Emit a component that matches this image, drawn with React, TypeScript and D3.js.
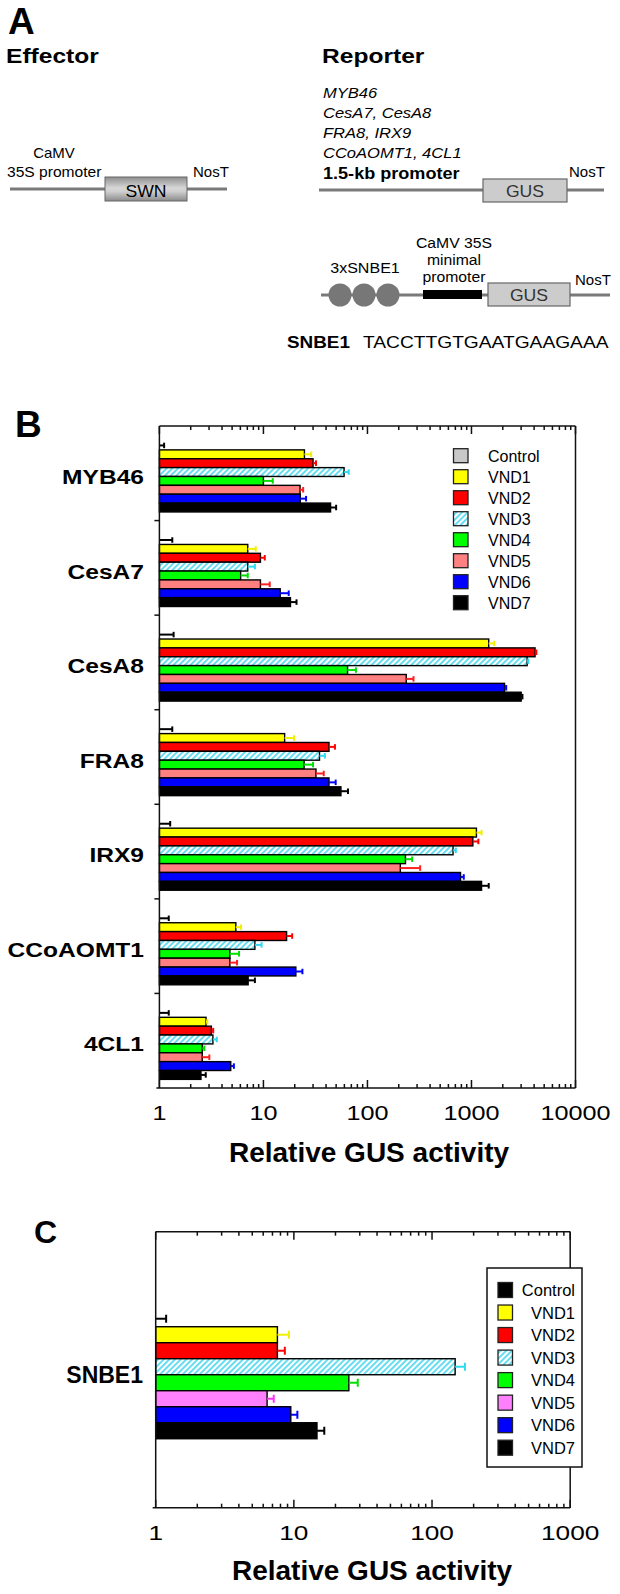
import * as d3 from "d3";

const series = ["Control", "VND1", "VND2", "VND3", "VND4", "VND5", "VND6", "VND7"];
const promoters = ["MYB46", "CesA7", "CesA8", "FRA8", "IRX9", "CCoAOMT1", "4CL1"];

// panel B, one row per promoter, one value per series
const meansB = [
  [1, 24.8, 30, 59.6, 10.0, 22.5, 22.6, 44.2],
  [1, 7.07, 9.36, 7.07, 6.04, 9.36, 14.5, 18.2],
  [1, 1465, 4085, 3430, 64.4, 236, 2080, 3005],
  [1, 16.0, 42.7, 34.6, 24.6, 32, 42.7, 55.6],
  [1, 1116, 1031, 665, 232, 207, 785, 1250],
  [1, 5.43, 16.7, 8.28, 4.76, 4.76, 20.5, 7.13],
  [1, 2.81, 3.16, 3.27, 2.58, 2.58, 4.85, 2.51],
];
const errorsB = [
  [0.11, 4.0, 2.0, 6.4, 2.3, 1.6, 3.1, 5.8],
  [0.33, 1.36, 0.94, 1.21, 1.03, 2.14, 3.0, 2.6],
  [0.37, 192, 115, 90, 13.1, 41, 77, 85],
  [0.33, 3.7, 6.0, 4.4, 5.4, 6.0, 6.8, 9.4],
  [0.27, 134, 134, 42, 37, 114, 58, 215],
  [0.23, 0.67, 2.2, 1.32, 1.07, 0.82, 3.2, 1.15],
  [0.23, 0.08, 0.13, 0.29, 0.12, 0.44, 0.35, 0.28],
];

// panel C
const reporterC = ["SNBE1"];
const meansC = [1, 7.6, 7.6, 147, 25, 6.4, 9.5, 14.7];
const errorsC = [0.19, 1.6, 1.0, 26, 4, 0.75, 1.1, 1.9];

const ticksB = [1, 10, 100, 1000, 10000];
const ticksC = [1, 10, 100, 1000];

const fillB = ["#c8c8c8", "#ffff00", "#ff0000", "url(#hatch)", "#00ff00", "#ff8080", "#0000ff", "#000000"];
const errColB = ["#000", "#f0f000", "#ff0000", "#30d8f0", "#00e000", "#ff2020", "#0000ff", "#000"];
const fillC = ["#000000", "#ffff00", "#ff0000", "url(#hatch)", "#00ff00", "#ff80ff", "#0000ff", "#000000"];
const errColC = ["#000", "#f0f000", "#ff0000", "#30d8f0", "#00e000", "#ff30ff", "#0000ff", "#000"];

const FONT = "'Liberation Sans', Arial, Helvetica, sans-serif";

function T({ x, y, size, bold = false, italic = false, anchor = "start", sx = 1, fill = "#000", children }: any) {
  return (
    <text
      transform={`translate(${x},${y}) scale(${sx},1)`}
      fontSize={size}
      fontWeight={bold ? "bold" : "normal"}
      fontStyle={italic ? "italic" : "normal"}
      textAnchor={anchor}
      fill={fill}
      fontFamily={FONT}
    >
      {children}
    </text>
  );
}

function LogAxes({ x, top, bottom, ticks, labelY, labelSize, labelSx }: any) {
  const all = x.ticks();
  const [x0, x1] = x.range();
  return (
    <g stroke="#111" strokeWidth={1.5}>
      <line x1={x0} x2={x1} y1={top} y2={top} />
      <line x1={x0 - 3} x2={x1} y1={bottom} y2={bottom} />
      <line x1={x0} x2={x0} y1={top} y2={bottom} />
      <line x1={x1} x2={x1} y1={top} y2={bottom} />
      {all.map((t: number, i: number) => {
        const major = Math.abs(Math.log10(t) - Math.round(Math.log10(t))) < 1e-9;
        const len = major ? 8 : 4;
        return (
          <g key={i}>
            <line x1={x(t)} x2={x(t)} y1={top} y2={top + len} />
            <line x1={x(t)} x2={x(t)} y1={bottom} y2={bottom - len} />
          </g>
        );
      })}
      <g stroke="none">
        {ticks.map((t: number) => (
          <T key={t} x={x(t)} y={labelY} size={labelSize} anchor="middle" sx={labelSx}>
            {d3.format("d")(t)}
          </T>
        ))}
      </g>
    </g>
  );
}

function Bars({ x, y, sub, cat, means, errors, fills, errCols, capH }: any) {
  const base = x(1);
  return (
    <g>
      {series.map((s, i) => {
        const yy = y(cat) + sub(s);
        const h = sub.bandwidth();
        const xe = x(means[i] + errors[i]);
        const xm = x(means[i]);
        const cy = yy + h / 2;
        return (
          <g key={s}>
            {xm - base > 0.5 && (
              <rect x={base} y={yy} width={xm - base} height={h} fill={fills[i]} stroke="#000" strokeWidth={1.4} />
            )}
            <line x1={xm} x2={xe} y1={cy} y2={cy} stroke={errCols[i]} strokeWidth={2} />
            <line x1={xe} x2={xe} y1={cy - capH / 2} y2={cy + capH / 2} stroke={errCols[i]} strokeWidth={2} />
          </g>
        );
      })}
    </g>
  );
}

function PanelA() {
  const lineCol = "#7a7a7a";
  const circles = d3.range(3).map((i) => 340 + i * 24);
  return (
    <g>
      <T x={8} y={34} size={37} bold>A</T>
      <T x={6} y={63} size={21} bold sx={1.17}>Effector</T>
      <T x={322} y={63} size={21} bold sx={1.17}>Reporter</T>

      {/* effector construct */}
      <line x1={10} x2={227} y1={189} y2={189} stroke={lineCol} strokeWidth={3} />
      <rect x={105} y={177} width={82} height={24} fill="url(#cyl)" stroke="#666" strokeWidth={1} />
      <T x={146} y={197} size={16} anchor="middle" sx={1.1}>SWN</T>
      <T x={54} y={158} size={15} anchor="middle">CaMV</T>
      <T x={7} y={177} size={15} sx={1.04}>35S promoter</T>
      <T x={193} y={177} size={15}>NosT</T>

      {/* promoter reporter */}
      <T x={323} y={98} size={14.5} italic sx={1.14}>MYB46</T>
      <T x={323} y={118} size={14.5} italic sx={1.14}>CesA7, CesA8</T>
      <T x={323} y={138} size={14.5} italic sx={1.14}>FRA8, IRX9</T>
      <T x={323} y={158} size={14.5} italic sx={1.14}>CCoAOMT1, 4CL1</T>
      <T x={323} y={179} size={16} bold sx={1.13}>1.5-kb promoter</T>
      <line x1={319} x2={604} y1={190} y2={190} stroke={lineCol} strokeWidth={3} />
      <rect x={483} y={179} width={84} height={23} fill="#cccccc" stroke="#666" strokeWidth={1.2} />
      <T x={525} y={197} size={16} anchor="middle" sx={1.1} fill="#333">GUS</T>
      <T x={569} y={177} size={15}>NosT</T>

      {/* SNBE1 reporter */}
      <line x1={321} x2={610} y1={295} y2={295} stroke={lineCol} strokeWidth={3} />
      {circles.map((cx) => (
        <circle key={cx} cx={cx} cy={295} r={11.5} fill="#777" />
      ))}
      <T x={365} y={273} size={15} anchor="middle" sx={1.07}>3xSNBE1</T>
      <rect x={423} y={290} width={59} height={9} fill="#000" />
      <T x={454} y={248} size={15} anchor="middle" sx={1.05}>CaMV 35S</T>
      <T x={454} y={265} size={15} anchor="middle" sx={1.05}>minimal</T>
      <T x={454} y={282} size={15} anchor="middle" sx={1.05}>promoter</T>
      <rect x={488} y={283} width={82} height={23} fill="#cccccc" stroke="#666" strokeWidth={1.2} />
      <T x={529} y={301} size={16} anchor="middle" sx={1.1} fill="#333">GUS</T>
      <T x={575} y={285} size={15}>NosT</T>

      <T x={287} y={348} size={16} bold sx={1.18}>SNBE1</T>
      <T x={363} y={348} size={16} sx={1.2}>TACCTTGTGAATGAAGAAA</T>
    </g>
  );
}

function PanelB() {
  const top = 426;
  const bottom = 1088;
  const x = d3.scaleLog().domain([1, 10000]).range([159.4, 575.5]);
  const y = d3.scaleBand().domain(promoters).range([top, bottom]).paddingInner(0.25).paddingOuter(0.125).align(0.635);
  const sub = d3.scaleBand().domain(series).range([0, y.bandwidth()]);
  const legendY = d3.scalePoint().domain(series).range([455.7, 602.7]);
  return (
    <g>
      <T x={15} y={437} size={37} bold>B</T>
      {promoters.map((p, pi) => (
        <g key={p}>
          <Bars x={x} y={y} sub={sub} cat={p} means={meansB[pi]} errors={errorsB[pi]} fills={fillB} errCols={errColB} capH={5.5} />
          <T x={144} y={(y(p) as number) + y.bandwidth() / 2 + 7.5} size={21} bold anchor="end" sx={1.17}>{p}</T>
        </g>
      ))}
      <LogAxes x={x} top={top} bottom={bottom} ticks={ticksB} labelY={1120} labelSize={21} labelSx={1.2} />
      {d3.range(1, promoters.length).map((k) => {
        const yy = top + k * y.step();
        return <line key={k} x1={x.range()[0] - 5} x2={x.range()[0]} y1={yy} y2={yy} stroke="#111" strokeWidth={1.5} />;
      })}
      {series.map((s, i) => (
        <g key={s}>
          <rect x={453.5} y={(legendY(s) as number) - 7} width={14.5} height={14} fill={fillB[i]} stroke="#222" strokeWidth={1.3} />
          <T x={488} y={(legendY(s) as number) + 6} size={16}>{s}</T>
        </g>
      ))}
      <T x={369} y={1162} size={28} bold anchor="middle">Relative GUS activity</T>
    </g>
  );
}

function PanelC() {
  const top = 1231.7;
  const bottom = 1507.7;
  const x = d3.scaleLog().domain([1, 1000]).range([155.7, 570.2]);
  const y = d3.scaleBand().domain(reporterC).range([top, bottom]).paddingInner(0).paddingOuter(0.578).align(0.534);
  const sub = d3.scaleBand().domain(series).range([0, y.bandwidth()]);
  const legendY = d3.scalePoint().domain(series).range([1290, 1447.7]);
  return (
    <g>
      <T x={34} y={1243} size={32} bold>C</T>
      <Bars x={x} y={y} sub={sub} cat="SNBE1" means={meansC} errors={errorsC} fills={fillC} errCols={errColC} capH={8} />
      <T x={143} y={(y("SNBE1") as number) + y.bandwidth() / 2 + 8} size={23} bold anchor="end">SNBE1</T>
      <LogAxes x={x} top={top} bottom={bottom} ticks={ticksC} labelY={1540} labelSize={21} labelSx={1.25} />
      <rect x={487} y={1268} width={95} height={199} fill="#fff" stroke="#111" strokeWidth={1.5} />
      {series.map((s, i) => (
        <g key={s}>
          <rect x={498} y={(legendY(s) as number) - 7.5} width={14.5} height={15} fill={fillC[i]} stroke="#222" strokeWidth={1.3} />
          <T x={575} y={(legendY(s) as number) + 6} size={16.5} anchor="end">{s}</T>
        </g>
      ))}
      <T x={372} y={1580} size={28} bold anchor="middle">Relative GUS activity</T>
    </g>
  );
}

export default function App() {
  return (
    <svg
      width={620}
      height={1594}
      viewBox="0 0 620 1594"
      style={{ position: "absolute", left: 0, top: 0, background: "#fff" }}
    >
      <defs>
        <pattern id="hatch" patternUnits="userSpaceOnUse" width={4} height={4} patternTransform="rotate(45)">
          <rect width={4} height={4} fill="#fff" />
          <line x1={1} x2={1} y1={0} y2={4} stroke="#5fdcf0" strokeWidth={1.9} />
        </pattern>
        <linearGradient id="cyl" x1="0" y1="0" x2="0" y2="1">
          <stop offset="0%" stopColor="#8e8e8e" />
          <stop offset="45%" stopColor="#d6d6d6" />
          <stop offset="60%" stopColor="#d0d0d0" />
          <stop offset="100%" stopColor="#8a8a8a" />
        </linearGradient>
      </defs>
      <rect width={620} height={1594} fill="#fff" />
      <PanelA />
      <PanelB />
      <PanelC />
    </svg>
  );
}
